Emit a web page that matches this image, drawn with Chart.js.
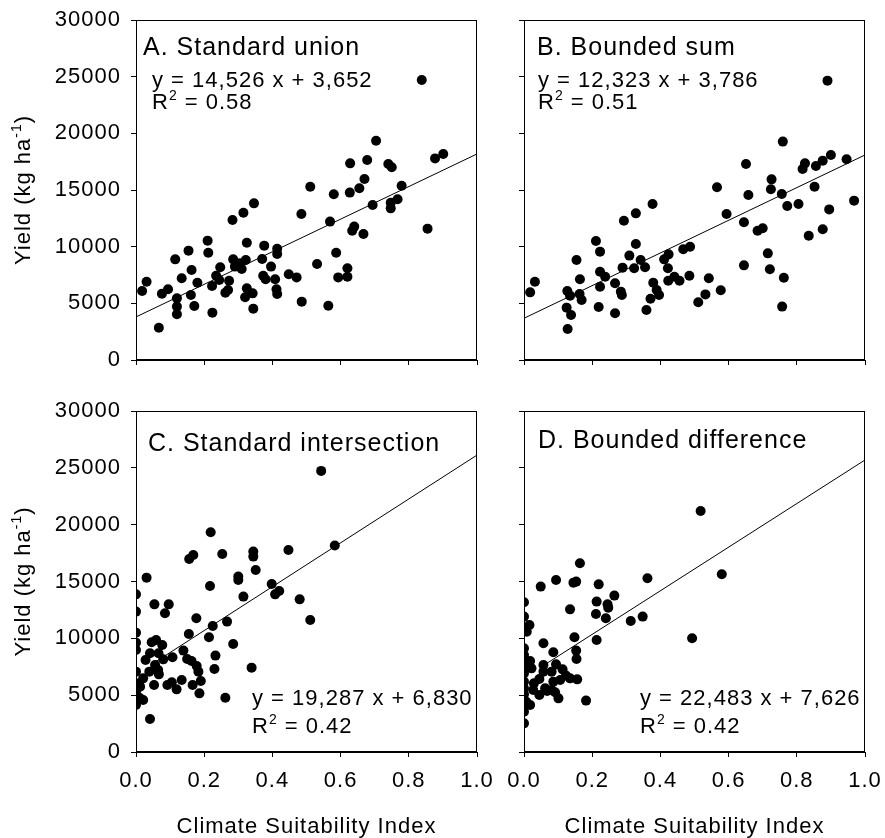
<!DOCTYPE html>
<html>
<head>
<meta charset="utf-8">
<script src="https://cdn.jsdelivr.net/npm/chart.js@4.4.1/dist/chart.umd.min.js"></script>
<style>
  body { margin: 0; background: #fff; }
  #wrap { position: relative; width: 885px; height: 838px; overflow: hidden; }
  canvas { position: absolute; }
</style>
</head>
<body>
<div id="wrap">
  <canvas id="panelA" width="500" height="405" style="left:0;top:0"></canvas>
  <canvas id="panelB" width="405" height="405" style="left:480px;top:0"></canvas>
  <canvas id="panelC" width="500" height="448" style="left:0;top:390px"></canvas>
  <canvas id="panelD" width="405" height="448" style="left:480px;top:390px"></canvas>
</div>
<script>
const FONT = "'Liberation Sans', Arial, sans-serif";

// A. Standard union
const unionX = [0.838, 0.704, 0.901, 0.877, 0.628, 0.678, 0.740, 0.750, 0.670, 0.779, 0.511, 0.655, 0.627, 0.580, 0.767, 0.747, 0.694, 0.747, 0.346, 0.315, 0.485, 0.283, 0.569, 0.640, 0.634, 0.667, 0.855, 0.210, 0.212, 0.154, 0.325, 0.376, 0.414, 0.414, 0.587, 0.115, 0.285, 0.322, 0.370, 0.305, 0.290, 0.310, 0.247, 0.163, 0.396, 0.531, 0.620, 0.235, 0.244, 0.273, 0.134, 0.180, 0.373, 0.380, 0.408, 0.448, 0.471, 0.593, 0.620, 0.031, 0.018, 0.076, 0.094, 0.120, 0.161, 0.223, 0.262, 0.270, 0.325, 0.342, 0.320, 0.412, 0.414, 0.120, 0.171, 0.120, 0.224, 0.344, 0.486, 0.564, 0.067];
const unionY = [24710, 19350, 18180, 17790, 17350, 17650, 17290, 17000, 15970, 15380, 15290, 15150, 14770, 14620, 14180, 13880, 13680, 13380, 13820, 13000, 12880, 12350, 12210, 11770, 11410, 11120, 11590, 10530, 9470, 9650, 10350, 10090, 9820, 9350, 9470, 8880, 8880, 8820, 8910, 8530, 8240, 8030, 8180, 7940, 8240, 8470, 8090, 7440, 7060, 7000, 7210, 6820, 7440, 7120, 7120, 7560, 7290, 7290, 7350, 6910, 6090, 5850, 6240, 5440, 5740, 6530, 5940, 6180, 6320, 5880, 5530, 6240, 5820, 4710, 4770, 4030, 4180, 4530, 5150, 4790, 2850];
const unionFitX = [0, 1];
const unionFitY = [3800, 18180];

// B. Bounded sum
const sumX = [0.890, 0.759, 0.900, 0.946, 0.876, 0.651, 0.824, 0.817, 0.856, 0.726, 0.852, 0.566, 0.724, 0.658, 0.756, 0.968, 0.805, 0.772, 0.895, 0.377, 0.328, 0.594, 0.293, 0.645, 0.700, 0.685, 0.876, 0.835, 0.211, 0.328, 0.223, 0.487, 0.467, 0.424, 0.715, 0.309, 0.154, 0.342, 0.411, 0.323, 0.289, 0.355, 0.422, 0.223, 0.645, 0.721, 0.238, 0.164, 0.485, 0.441, 0.542, 0.762, 0.032, 0.018, 0.127, 0.267, 0.379, 0.423, 0.456, 0.223, 0.284, 0.389, 0.135, 0.163, 0.169, 0.287, 0.396, 0.371, 0.532, 0.577, 0.511, 0.125, 0.219, 0.359, 0.138, 0.267, 0.757, 0.128];
const sumY = [24650, 19270, 18090, 17710, 17590, 17290, 17350, 16850, 17120, 15940, 15290, 15240, 15060, 14560, 14650, 14060, 13770, 13590, 13290, 13770, 12940, 12880, 12290, 12150, 11620, 11410, 11530, 10970, 10500, 10240, 9560, 10000, 9770, 9320, 9410, 9210, 8820, 8820, 8880, 8090, 8150, 8180, 8090, 7790, 8350, 8000, 7350, 7120, 7440, 7350, 7210, 7260, 6910, 5970, 6090, 6770, 6820, 7000, 7000, 6470, 6030, 6180, 5680, 5820, 5290, 5740, 5740, 5410, 5790, 6150, 5090, 4620, 4680, 4410, 3970, 4120, 4710, 2740];
const sumFitX = [0, 1];
const sumFitY = [3680, 18090];

// C. Standard intersection
const interX = [0.543, 0.583, 0.219, 0.156, 0.168, 0.253, 0.344, 0.344, 0.447, 0.351, 0.300, 0.300, 0.031, 0.217, 0.398, 0.408, 0.420, 0.315, 0.480, 0.000, 0.054, 0.096, 0.085, 0.000, 0.177, 0.511, 0.267, 0.225, 0.000, 0.155, 0.214, 0.000, 0.000, 0.046, 0.059, 0.077, 0.285, 0.139, 0.041, 0.066, 0.107, 0.028, 0.080, 0.150, 0.163, 0.233, 0.178, 0.056, 0.065, 0.000, 0.039, 0.183, 0.230, 0.339, 0.067, 0.021, 0.190, 0.105, 0.134, 0.000, 0.012, 0.053, 0.092, 0.166, 0.119, 0.186, 0.000, 0.010, 0.021, 0.000, 0.262, 0.041, 0.000];
const interY = [24730, 18160, 19330, 16980, 17330, 17420, 17630, 17190, 17770, 16010, 15430, 15130, 15340, 14610, 14780, 13870, 14170, 13670, 13430, 13870, 12990, 12990, 12200, 12350, 11760, 11620, 11470, 11090, 10500, 10380, 10090, 9620, 8980, 9650, 9860, 9420, 9500, 8920, 8680, 8680, 8330, 8100, 8150, 8180, 8010, 8480, 7570, 7660, 7220, 7070, 7070, 7070, 7300, 7420, 6830, 6480, 6250, 6130, 6340, 6040, 5750, 5900, 5900, 5900, 5510, 5160, 5310, 4780, 4580, 4140, 4780, 2900, 4720];
const interFitX = [0.05, 1];
const interFitY = [7790, 26120];

// D. Bounded difference
const diffX = [0.518, 0.580, 0.164, 0.094, 0.145, 0.153, 0.049, 0.219, 0.362, 0.265, 0.245, 0.247, 0.213, 0.000, 0.135, 0.211, 0.240, 0.313, 0.348, 0.000, 0.016, 0.008, 0.493, 0.213, 0.148, 0.057, 0.000, 0.086, 0.153, 0.154, 0.000, 0.003, 0.018, 0.057, 0.094, 0.000, 0.022, 0.113, 0.057, 0.081, 0.000, 0.123, 0.135, 0.156, 0.045, 0.029, 0.086, 0.106, 0.000, 0.000, 0.062, 0.027, 0.081, 0.045, 0.068, 0.091, 0.101, 0.000, 0.000, 0.018, 0.182, 0.000, 0.000, 0.000, 0.006];
const diffY = [21210, 15630, 16600, 15130, 14900, 14990, 14550, 14750, 15280, 13760, 12990, 12700, 13230, 13170, 12550, 12140, 11760, 11530, 11910, 11910, 11180, 10590, 10000, 9860, 10090, 9560, 9120, 8770, 8920, 8180, 8540, 8100, 8010, 7660, 7710, 7660, 7360, 7270, 7070, 7070, 6920, 6720, 6480, 6390, 6420, 6040, 6190, 6340, 6190, 5600, 5600, 5460, 5460, 5020, 5370, 5250, 4720, 5070, 4580, 4140, 4520, 3990, 3550, 2520, 4430];
const diffFitX = [0.067, 1];
const diffFitY = [7800, 25690];

const yTicks = [0, 5000, 10000, 15000, 20000, 25000, 30000];
const xTicks = [0, 0.2, 0.4, 0.6, 0.8, 1.0];

function toPoints(xs, ys) {
  return xs.map((x, i) => ({ x: x, y: ys[i] }));
}

// draws text made of [text, isSuperscript] pieces, left to right
function drawParts(ctx, parts, x, y, size) {
  parts.forEach(([txt, sup]) => {
    const s = sup ? Math.round(size * 0.62) : size;
    ctx.font = s + "px " + FONT;
    ctx.fillText(txt, x, sup ? y - size * 0.42 : y);
    x += ctx.measureText(txt).width;
  });
  return x;
}

function partsWidth(ctx, parts, size) {
  let w = 0;
  parts.forEach(([txt, sup]) => {
    ctx.font = (sup ? Math.round(size * 0.62) : size) + "px " + FONT;
    w += ctx.measureText(txt).width;
  });
  return w;
}

const panelText = {
  id: "panelText",
  beforeDraw(chart) {
    // the original lettering is set a little wider than plain Arial
    chart.ctx.letterSpacing = "1px";
  },
  afterDraw(chart, args, opts) {
    const ctx = chart.ctx;
    const ca = chart.chartArea;
    ctx.save();
    ctx.letterSpacing = "1px";
    ctx.fillStyle = "#000";
    ctx.textBaseline = "alphabetic";
    ctx.textAlign = "left";

    // frame round the plot
    ctx.strokeStyle = "#000";
    ctx.lineWidth = 1;
    ctx.strokeRect(Math.round(ca.left) + 0.5, Math.round(ca.top) + 0.5,
      Math.round(ca.right - ca.left) - 1, Math.round(ca.bottom - ca.top) - 1);

    ctx.font = "25px " + FONT;
    ctx.fillText(opts.title, ca.left + opts.titleDx, ca.top + opts.titleDy);

    drawParts(ctx, [[opts.eq, false]], ca.left + opts.eqDx, ca.top + opts.eqDy, 22);
    drawParts(ctx, [["R", false], ["2", true], [" = " + opts.r2, false]],
      ca.left + opts.eqDx, ca.top + opts.eqDy + opts.eqGap, 22);

    if (opts.yTitle) {
      const parts = [["Yield (kg ha", false], ["-1", true], [")", false]];
      const w = partsWidth(ctx, parts, 22);
      ctx.translate(24, (ca.top + ca.bottom) / 2);
      ctx.rotate(-Math.PI / 2);
      drawParts(ctx, parts, -w / 2, 6, 22);
    }
    ctx.restore();
  },
};

function makePanel(id, cfg) {
  const ctx = document.getElementById(id).getContext("2d");
  return new Chart(ctx, {
    type: "scatter",
    data: {
      datasets: [
        {
          data: toPoints(cfg.xs, cfg.ys),
          pointRadius: 5,
          pointHoverRadius: 5,
          pointBackgroundColor: "#000",
          pointBorderWidth: 0,
        },
        {
          data: toPoints(cfg.fitX, cfg.fitY),
          showLine: true,
          borderColor: "#000",
          borderWidth: 1,
          pointRadius: 0,
        },
      ],
    },
    options: {
      responsive: false,
      animation: false,
      devicePixelRatio: 1,
      events: [],
      layout: { padding: cfg.padding },
      plugins: {
        legend: { display: false },
        tooltip: { enabled: false },
        panelText: cfg.text,
      },
      scales: {
        x: {
          type: "linear",
          min: 0,
          max: 1,
          afterBuildTicks: (s) => {
            s.ticks = xTicks.map((v) => ({ value: v }));
          },
          ticks: {
            display: cfg.xLabels,
            autoSkip: false,
            maxRotation: 0,
            color: "#000",
            padding: 11,
            font: { family: FONT, size: 22 },
            callback: (v) => Number(v).toFixed(1),
          },
          grid: { drawOnChartArea: false, color: "#000", tickLength: 5 },
          border: { color: "#000", width: 1 },
          title: {
            display: cfg.xLabels,
            text: "Climate Suitability Index",
            color: "#000",
            font: { family: FONT, size: 22, lineHeight: 1 },
            padding: 0,
          },
          afterFit: (s) => {
            s.height = cfg.xHeight;
            s.paddingLeft = 0;
            s.paddingRight = 0;
          },
        },
        y: {
          type: "linear",
          min: 0,
          max: 30000,
          afterBuildTicks: (s) => {
            s.ticks = yTicks.map((v) => ({ value: v }));
          },
          ticks: {
            display: cfg.yLabels,
            color: "#000",
            padding: 10,
            font: { family: FONT, size: 22 },
            callback: (v) => String(v),
          },
          grid: { drawOnChartArea: false, color: "#000", tickLength: 5 },
          border: { color: "#000", width: 1 },
          afterFit: (s) => {
            s.width = cfg.yWidth;
            s.paddingTop = 0;
            s.paddingBottom = 0;
          },
        },
      },
    },
    plugins: [panelText],
  });
}

makePanel("panelA", {
  xs: unionX, ys: unionY, fitX: unionFitX, fitY: unionFitY,
  padding: { top: 20, right: 23, left: 0, bottom: 0 },
  xLabels: false, yLabels: true, xHeight: 45, yWidth: 136,
  text: { title: "A. Standard union", titleDx: 7, titleDy: 35,
    eq: "y = 14,526 x + 3,652", r2: "0.58", eqDx: 16, eqDy: 67, eqGap: 22, yTitle: true },
});

makePanel("panelB", {
  xs: sumX, ys: sumY, fitX: sumFitX, fitY: sumFitY,
  padding: { top: 20, right: 20, left: 0, bottom: 0 },
  xLabels: false, yLabels: false, xHeight: 45, yWidth: 44,
  text: { title: "B. Bounded sum", titleDx: 13, titleDy: 35,
    eq: "y = 12,323 x + 3,786", r2: "0.51", eqDx: 14, eqDy: 67, eqGap: 22, yTitle: false },
});

makePanel("panelC", {
  xs: interX, ys: interY, fitX: interFitX, fitY: interFitY,
  padding: { top: 21, right: 23, left: 0, bottom: 0 },
  xLabels: true, yLabels: true, xHeight: 86, yWidth: 136,
  text: { title: "C. Standard intersection", titleDx: 12, titleDy: 40,
    eq: "y = 19,287 x + 6,830", r2: "0.42", eqDx: 116, eqDy: 294, eqGap: 28, yTitle: true },
});

makePanel("panelD", {
  xs: diffX, ys: diffY, fitX: diffFitX, fitY: diffFitY,
  padding: { top: 21, right: 20, left: 0, bottom: 0 },
  xLabels: true, yLabels: false, xHeight: 86, yWidth: 44,
  text: { title: "D. Bounded difference", titleDx: 14, titleDy: 37,
    eq: "y = 22,483 x + 7,626", r2: "0.42", eqDx: 116, eqDy: 294, eqGap: 28, yTitle: false },
});
</script>
</body>
</html>
